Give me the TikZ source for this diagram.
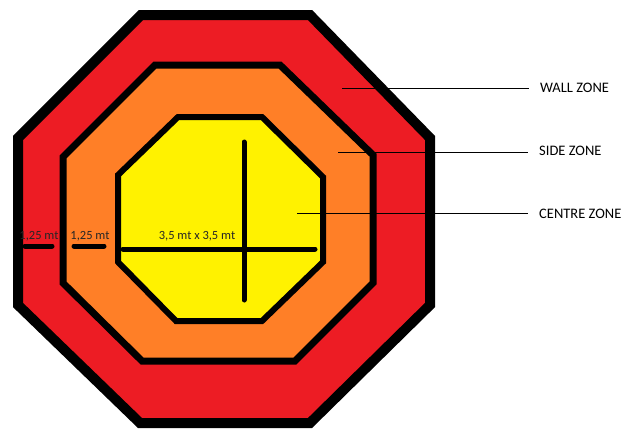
\documentclass[tikz,border=0pt]{standalone}
\usepackage{fontspec}
\setmainfont{Carlito}
\usepackage{xcolor}
\usetikzlibrary{positioning}
\definecolor{wallred}{HTML}{ED1C24}
\definecolor{sideorange}{HTML}{FF7F27}
\definecolor{centreyellow}{HTML}{FFF200}

\begin{document}
\begin{tikzpicture}[x=1pt, y=-1pt,
  zone/.style={draw=black, line join=miter},
  bar/.style={line width=5pt, line cap=round},
  leader/.style={draw, line width=0.9pt},
  zonelabel/.style={anchor=west, inner xsep=11pt, inner ysep=0pt,
                    font=\fontsize{14.5}{17}\selectfont},
  measure/.style={inner sep=0pt, text=black!85,
                  font=\fontsize{12.5}{14}\selectfont}]
\useasboundingbox (0,0) rectangle (635,429);
\path[zone, fill=wallred, line width=10pt]
  (141,15) -- (310,15) -- (430,138) -- (430,305) -- (310,423)
  -- (140,423) -- (18,305) -- (18,138) -- cycle;
\path[zone, fill=sideorange, line width=7pt]
  (155,65) -- (280,65) -- (373,155) -- (373,283) -- (295,361)
  -- (142,361) -- (63,283) -- (63,157) -- cycle;
\path[zone, fill=centreyellow, line width=6pt]
  (178,117) -- (262,117) -- (323,177) -- (323,262) -- (262,321)
  -- (176,321) -- (118,262) -- (118,175) -- cycle;

\coordinate (crossT) at (244,142);
\coordinate (crossB) at (244,300);
\coordinate (crossL) at (123,249);
\coordinate (crossR) at (315,249);
\draw[bar] (crossT) -- (crossB);
\draw[bar] (crossL) -- (crossR);

\coordinate (wallL) at (25,246);
\coordinate (wallR) at (52,246);
\coordinate (sideL) at (74,246);
\coordinate (sideR) at (104,246);
\draw[bar] (wallL) -- (wallR);
\draw[bar] (sideL) -- (sideR);
\node[measure] (wallw) at (39,236) {1,25 mt};
\node[measure] (sidew) at (90,236) {1,25 mt};
\node[measure] (centrew) at (197,236) {3,5 mt x 3,5 mt};

\coordinate (wallpt) at (342,88);
\coordinate (sidept) at (338,152);
\coordinate (centrept) at (297,213);
\node[zonelabel] (wall) at (529,88) {WALL ZONE};
\node[zonelabel] (side) at (528,151) {SIDE ZONE};
\node[zonelabel] (centre) at (528,214) {CENTRE ZONE};
\draw[leader] (wallpt) -- (wall.west);
\draw[leader] (sidept) -- (side.west |- sidept);
\draw[leader] (centrept) -- (centre.west |- centrept);
\end{tikzpicture}
\end{document}
